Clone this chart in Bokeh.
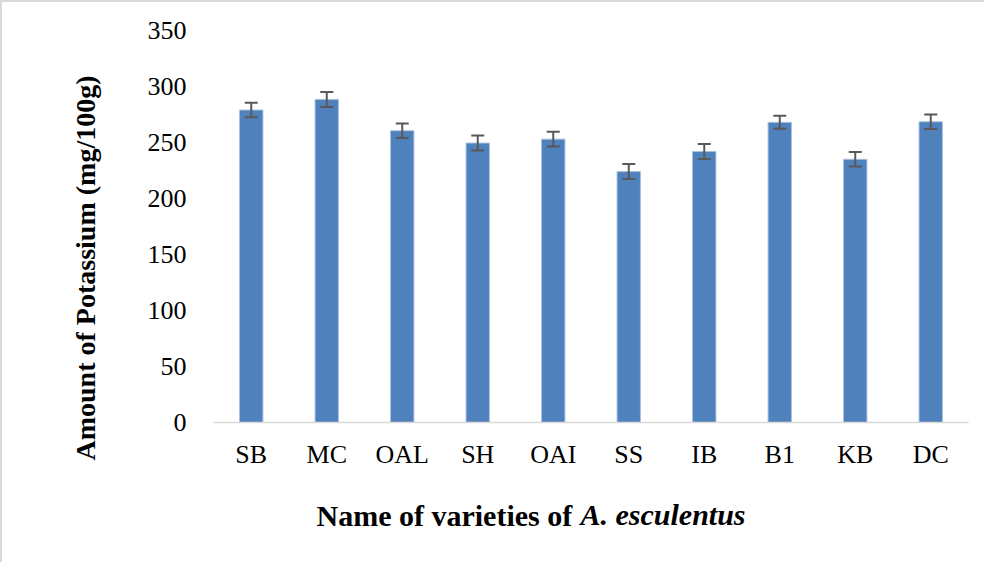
from bokeh.plotting import figure
from bokeh.models import ColumnDataSource, Range1d, FactorRange, Whisker, TeeHead, Title
from bokeh.embed import file_html
from bokeh.resources import INLINE

categories = ["SB", "MC", "OAL", "SH", "OAI", "SS", "IB", "B1", "KB", "DC"]
potassium = [279, 288.5, 260.5, 249.5, 253, 224, 242, 268, 235, 268.5]
std_err = [6.5, 6.7, 6.5, 6.7, 6.5, 6.7, 6.7, 5.8, 6.5, 6.5]
y_ticks = [0, 50, 100, 150, 200, 250, 300, 350]

upper = [v + e for v, e in zip(potassium, std_err)]
lower = [v - e for v, e in zip(potassium, std_err)]
src = ColumnDataSource(dict(cat=categories, val=potassium, upper=upper, lower=lower))

FONT = "Liberation Serif"

p = figure(
    x_range=FactorRange(*categories, range_padding=0),
    y_range=Range1d(0, 350),
    frame_width=755, frame_height=392,
    min_border_left=211, min_border_right=16, min_border_top=28, min_border_bottom=140,
    output_backend="svg", toolbar_location=None,
)
p.styles = {"border-top": "2px solid #d9d9d9", "border-left": "2px solid #d9d9d9"}
p.outline_line_color = None
p.xgrid.grid_line_color = None
p.ygrid.grid_line_color = None

p.vbar(x="cat", top="val", width=0.31, source=src,
       fill_color="#4F81BD", line_color="#A9C1DF", line_width=1)

p.add_layout(Whisker(
    base="cat", upper="upper", lower="lower", source=src, level="overlay",
    line_color="#595959", line_width=2,
    upper_head=TeeHead(size=13, line_color="#595959", line_width=2),
    lower_head=TeeHead(size=13, line_color="#595959", line_width=2),
))

p.yaxis.ticker = y_ticks
p.yaxis.axis_line_color = None
p.yaxis.major_tick_line_color = None
p.yaxis.minor_tick_line_color = None
p.yaxis.major_label_standoff = 21
p.xaxis.axis_line_color = "#D9D9D9"
p.xaxis.axis_line_width = 1.5
p.xaxis.major_tick_line_color = None
p.xaxis.minor_tick_line_color = None
p.xaxis.major_label_standoff = 11
for ax in (p.xaxis, p.yaxis):
    ax.major_label_text_font = FONT
    ax.major_label_text_font_size = "26px"
    ax.major_label_text_color = "black"

# y-axis title
p.add_layout(Title(text="Amount of Potassium (mg/100g)", align="left", offset=-38,
                   vertical_align="top", standoff=83,
                   text_font=FONT, text_font_size="28px", text_font_style="bold",
                   text_color="black"), "left")

# x-axis title (two parts, second shares the first one's row)
p.add_layout(Title(text="Name of varieties of", align="left", offset=103,
                   vertical_align="bottom", standoff=50,
                   text_font=FONT, text_font_size="30px", text_font_style="bold",
                   text_color="black"), "below")
p.add_layout(Title(text="A. esculentus", align="left", offset=367,
                   vertical_align="top", standoff=-118,
                   text_font=FONT, text_font_size="30px", text_font_style="bold italic",
                   text_color="black"), "below")

open("out.html", "w").write(file_html(p, INLINE))
